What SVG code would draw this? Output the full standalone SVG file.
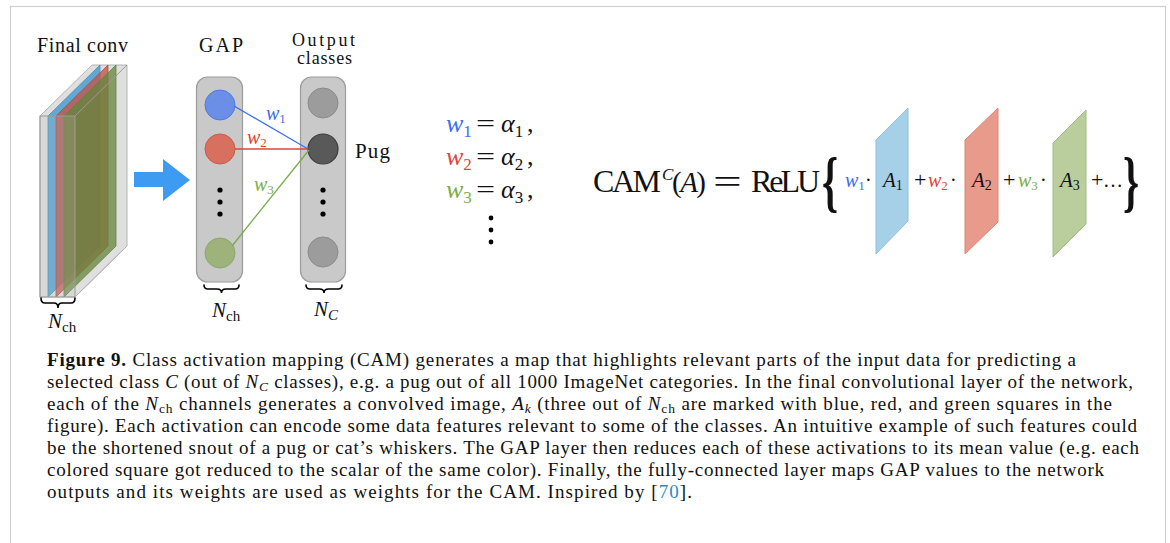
<svg xmlns="http://www.w3.org/2000/svg" width="1170" height="543" viewBox="0 0 1170 543">
  <style>
    .serif { font-family: "Liberation Serif", "DejaVu Serif", serif; fill: #111; }
    .it { font-style: italic; }
    .col { fill: #c9c9c9; stroke: #9c9c9c; stroke-width: 1.2; }
    .dot { fill: #000; }
    .brace { fill: none; stroke: #000; stroke-width: 1.6; stroke-linecap: round; }
    .cap { font-family: "Liberation Serif", "DejaVu Serif", serif; font-size: 19px; fill: #111; }
    .blue { fill: #3b6ef0; }
    .red { fill: #e0453a; }
    .green { fill: #7aae4a; }
  </style>

  <!-- frame -->
  <rect x="10.5" y="6.5" width="1155" height="560" fill="#fff" stroke="#cfcfcf" stroke-width="1.2"/>

  <!-- final convolutional block with three highlighted channels -->
  <g id="final-conv">
    <text class="serif" x="37" y="52" font-size="20" textLength="91">Final conv</text>
    <polygon points="40,116 92,65 127,65 127,246 75,297 40,297" fill="#d9d9d9" fill-opacity="0.85" stroke="#b3b3b3" stroke-width="1"/>
    <polygon points="48,116 100,65 100,246 48,297" fill="#4c9fd0" fill-opacity="0.85" stroke="#3f8fc0" stroke-width="0.8"/>
    <polygon points="56,116 108,65 108,246 56,297" fill="#c2554a" fill-opacity="0.78" stroke="#b04a3c" stroke-width="0.8"/>
    <polygon points="64,116 116,65 116,246 64,297" fill="#66853a" fill-opacity="0.75" stroke="#62843a" stroke-width="0.8"/>
    <rect x="40" y="116" width="35" height="181" fill="#bdbdbd" fill-opacity="0.2" stroke="#9a9a9a" stroke-width="1"/>
    <line x1="75" y1="116" x2="127" y2="65" stroke="#9a9a9a" stroke-width="1"/>
    <line x1="75" y1="297" x2="127" y2="246" stroke="#b3b3b3" stroke-width="1"/>
    <path class="brace" d="M41,298 Q41,303 45,303 L54,303 Q58,303 58,308 Q58,303 62,303 L71,303 Q75,303 75,298"/>
    <text class="serif it" x="48" y="328" font-size="21">N<tspan font-size="15" font-style="normal" dy="4">ch</tspan></text>
  </g>

  <!-- flow arrow -->
  <g id="arrow">
    <polygon points="134,172 163,172 163,159 190,180 163,201 163,187 134,187" fill="#3d9bf2"/>
  </g>

  <!-- global average pooling column -->
  <g id="gap">
    <text class="serif" x="199" y="52" font-size="20" textLength="44">GAP</text>
    <rect class="col" x="196.5" y="77" width="46" height="205" rx="11"/>
    <circle cx="220" cy="105" r="15" fill="#6b8fe6" stroke="#4f78e2" stroke-width="1"/>
    <circle cx="220" cy="149" r="15" fill="#d8705f" stroke="#c95a48" stroke-width="1"/>
    <circle class="dot" cx="220" cy="190" r="2.6"/>
    <circle class="dot" cx="220" cy="202" r="2.6"/>
    <circle class="dot" cx="220" cy="214" r="2.6"/>
    <circle cx="220" cy="253" r="15" fill="#9eb37c" stroke="#8aa968" stroke-width="1"/>
    <path class="brace" d="M204,285 Q204,289 208,289 L217,289 Q221.5,289 221.5,293 Q221.5,289 226,289 L235,289 Q239,289 239,285"/>
    <text class="serif it" x="212" y="317" font-size="21">N<tspan font-size="15" font-style="normal" dy="4">ch</tspan></text>
  </g>

  <!-- output classes column -->
  <g id="output">
    <text class="serif" x="292" y="46" font-size="18" textLength="63">Output</text>
    <text class="serif" x="297" y="64" font-size="18" textLength="55">classes</text>
    <rect class="col" x="300.5" y="77" width="45" height="205" rx="11"/>
    <circle cx="323" cy="103" r="15" fill="#9c9c9c" stroke="#8a8a8a" stroke-width="1"/>
    <circle cx="323" cy="149" r="15" fill="#595959" stroke="#3c3c3c" stroke-width="1.2"/>
    <circle class="dot" cx="323" cy="190" r="2.6"/>
    <circle class="dot" cx="323" cy="202" r="2.6"/>
    <circle class="dot" cx="323" cy="214" r="2.6"/>
    <circle cx="323" cy="252" r="15" fill="#9c9c9c" stroke="#8a8a8a" stroke-width="1"/>
    <path class="brace" d="M306,285 Q306,289 310,289 L319.5,289 Q324,289 324,293 Q324,289 328.5,289 L338,289 Q342,289 342,285"/>
    <text class="serif it" x="314" y="316" font-size="21">N<tspan font-size="15" dy="4">C</tspan></text>
    <text class="serif" x="355" y="158" font-size="21" textLength="35">Pug</text>
  </g>

  <!-- fully-connected weights into the predicted class -->
  <g id="connectors">
    <line x1="234" y1="106" x2="308" y2="149" stroke="#3b6ef0" stroke-width="1.3"/>
    <line x1="235" y1="149" x2="308" y2="149" stroke="#e0453a" stroke-width="1.3"/>
    <line x1="232" y1="246" x2="309" y2="150" stroke="#78aa48" stroke-width="1.3"/>
    <text class="serif it blue" x="266" y="120" font-size="20">w<tspan font-size="13" font-style="normal" dy="3">1</tspan></text>
    <text class="serif it red" x="247" y="144" font-size="20">w<tspan font-size="13" font-style="normal" dy="3">2</tspan></text>
    <text class="serif it green" x="254" y="191" font-size="20">w<tspan font-size="13" font-style="normal" dy="3">3</tspan></text>
  </g>

  <!-- weight identities -->
  <g id="weights">
    <text class="serif" font-size="26" y="132"><tspan class="it blue" x="446">w</tspan><tspan class="blue" font-size="17" dy="5">1</tspan><tspan x="501" dy="-5" class="it">α</tspan><tspan font-size="17" dy="5">1</tspan><tspan x="527" dy="-5">,</tspan></text>
    <text class="serif" font-size="26" y="165"><tspan class="it red" x="446">w</tspan><tspan class="red" font-size="17" dy="5">2</tspan><tspan x="501" dy="-5" class="it">α</tspan><tspan font-size="17" dy="5">2</tspan><tspan x="527" dy="-5">,</tspan></text>
    <text class="serif" font-size="26" y="198"><tspan class="it green" x="446">w</tspan><tspan class="green" font-size="17" dy="5">3</tspan><tspan x="501" dy="-5" class="it">α</tspan><tspan font-size="17" dy="5">3</tspan><tspan x="527" dy="-5">,</tspan></text>
    <text class="serif" font-size="26" transform="translate(476,132) scale(1.3,1)">=</text>
    <text class="serif" font-size="26" transform="translate(476,165) scale(1.3,1)">=</text>
    <text class="serif" font-size="26" transform="translate(476,198) scale(1.3,1)">=</text>
    <circle class="dot" cx="491" cy="218" r="2.4"/>
    <circle class="dot" cx="491" cy="230" r="2.4"/>
    <circle class="dot" cx="491" cy="242" r="2.4"/>
  </g>

  <!-- CAM formula -->
  <g id="cam-formula">
    <polygon points="876,140 908,108 908,221 876,254" fill="#a6cfe8" stroke="#8ec1e0" stroke-width="1"/>
    <polygon points="965,140 998,108 998,222 965,254" fill="#e89a8b" stroke="#dc8676" stroke-width="1"/>
    <polygon points="1053,143 1086,110 1086,224 1053,257" fill="#b9cd9d" stroke="#a2bd82" stroke-width="1"/>
    <text class="serif" font-size="32" x="593" y="192" textLength="68">CAM</text>
    <text class="serif it" font-size="17" x="662" y="180">C</text>
    <text class="serif" font-size="29" x="672" y="192" textLength="34">(<tspan class="it">A</tspan>)</text>
    <text class="serif" font-size="34" transform="translate(713,193) scale(1.5,1)">=</text>
    <text class="serif" font-size="32" x="751" y="192" textLength="69">ReLU</text>
    <text class="serif" font-weight="bold" font-size="68" transform="translate(822,204) scale(0.6,1)">{</text>
    <text class="serif" font-weight="bold" font-size="68" transform="translate(1123,204) scale(0.6,1)">}</text>
    <text class="serif" font-size="20" y="187"><tspan class="it blue" x="845">w</tspan><tspan class="blue" font-size="13" dy="3">1</tspan><tspan x="865" dy="-3">·</tspan></text>
    <text class="serif it" font-size="21" x="883" y="187">A<tspan font-size="14" font-style="normal" dy="3">1</tspan></text>
    <text class="serif" font-size="20" y="187"><tspan x="914" font-size="22">+</tspan><tspan class="it red" x="928">w</tspan><tspan class="red" font-size="13" dy="3">2</tspan><tspan x="950" dy="-3">·</tspan></text>
    <text class="serif it" font-size="21" x="972" y="187">A<tspan font-size="14" font-style="normal" dy="3">2</tspan></text>
    <text class="serif" font-size="20" y="187"><tspan x="1003" font-size="22">+</tspan><tspan class="it green" x="1018">w</tspan><tspan class="green" font-size="13" dy="3">3</tspan><tspan x="1040" dy="-3">·</tspan></text>
    <text class="serif it" font-size="21" x="1060" y="187">A<tspan font-size="14" font-style="normal" dy="3">3</tspan></text>
    <text class="serif" font-size="20" y="187"><tspan x="1091" font-size="22">+</tspan><tspan x="1103">…</tspan></text>
  </g>

  <!-- caption -->
  <g id="caption">
    <text class="cap" x="47" y="366" textLength="1029"><tspan font-weight="bold">Figure 9.</tspan> Class activation mapping (CAM) generates a map that highlights relevant parts of the input data for predicting a</text>
    <text class="cap" x="47" y="388" textLength="1086">selected class <tspan class="it">C</tspan> (out of <tspan class="it">N</tspan><tspan class="it" font-size="13.5" dy="3">C</tspan><tspan dy="-3"> classes), e.g. a pug out of all 1000 ImageNet categories. In the final convolutional layer of the network,</tspan></text>
    <text class="cap" x="47" y="410" textLength="1065">each of the <tspan class="it">N</tspan><tspan font-size="13.5" dy="3">ch</tspan><tspan dy="-3"> channels generates a convolved image, </tspan><tspan class="it">A</tspan><tspan class="it" font-size="13.5" dy="3">k</tspan><tspan dy="-3"> (three out of </tspan><tspan class="it">N</tspan><tspan font-size="13.5" dy="3">ch</tspan><tspan dy="-3"> are marked with blue, red, and green squares in the</tspan></text>
    <text class="cap" x="47" y="432" textLength="1090">figure). Each activation can encode some data features relevant to some of the classes. An intuitive example of such features could</text>
    <text class="cap" x="47" y="454" textLength="1092">be the shortened snout of a pug or cat’s whiskers. The GAP layer then reduces each of these activations to its mean value (e.g. each</text>
    <text class="cap" x="47" y="476" textLength="1057">colored square got reduced to the scalar of the same color). Finally, the fully-connected layer maps GAP values to the network</text>
    <text class="cap" x="47" y="498" textLength="645">outputs and its weights are used as weights for the CAM. Inspired by [<tspan fill="#2a8ac8">70</tspan>].</text>
  </g>
</svg>
